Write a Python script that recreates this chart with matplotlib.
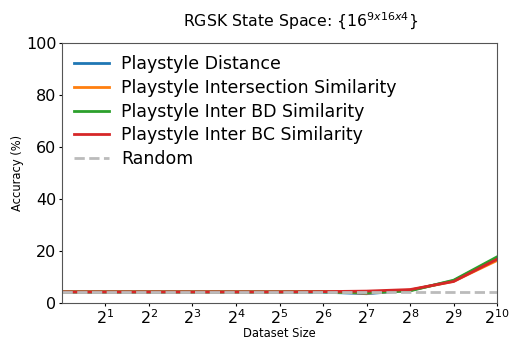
import matplotlib
matplotlib.use('Agg')
import matplotlib.pyplot as plt

sizes = [2**i for i in range(11)]
distance = [4.2, 4.2, 4.2, 4.2, 4.2, 4.2, 4.2, 3.6, 4.9, 8.6, 17.4]
intersection = [4.3, 4.3, 4.3, 4.3, 4.3, 4.3, 4.4, 3.8, 5.0, 8.4, 16.4]
inter_bd = [4.3, 4.3, 4.3, 4.3, 4.3, 4.3, 4.3, 4.0, 4.7, 8.8, 17.8]
inter_bc = [4.3, 4.3, 4.3, 4.3, 4.3, 4.3, 4.4, 4.6, 5.2, 8.3, 16.9]
random_acc = [4.17] * 11

fig, ax = plt.subplots(figsize=(5.11, 3.39), dpi=100)
ax.plot(sizes, distance, label='Playstyle Distance', color='#1f77b4', lw=2)
ax.plot(sizes, intersection, label='Playstyle Intersection Similarity', color='#ff7f0e', lw=2)
ax.plot(sizes, inter_bd, label='Playstyle Inter BD Similarity', color='#2ca02c', lw=2)
ax.plot(sizes, inter_bc, label='Playstyle Inter BC Similarity', color='#d62728', lw=2)
ax.plot(sizes, random_acc, label='Random', color='#bbbbbb', lw=2, ls='--')

ax.set_xscale('log', base=2)
ax.set_xlim(1, 1024)
ax.set_ylim(0, 100)
ax.set_xticks([2**i for i in range(1, 11)])
ax.minorticks_off()
ax.tick_params(labelsize=11.5, length=2.5, pad=1.5)
for sp in ax.spines.values():
    sp.set_color('#555555')
ax.set_xlabel('Dataset Size', fontsize=8.3, labelpad=0)
ax.set_ylabel('Accuracy (%)', fontsize=8.3, labelpad=1)
ax.set_title('RGSK State Space: {$16^{9x16x4}$}', fontsize=11.3, pad=12, x=0.549)
ax.legend(fontsize=12.5, frameon=False, loc='upper left', labelspacing=0.33,
          borderaxespad=0.3, handletextpad=0.7)

fig.subplots_adjust(left=0.121, right=0.973, top=0.873, bottom=0.106)
fig.savefig('out.png')
